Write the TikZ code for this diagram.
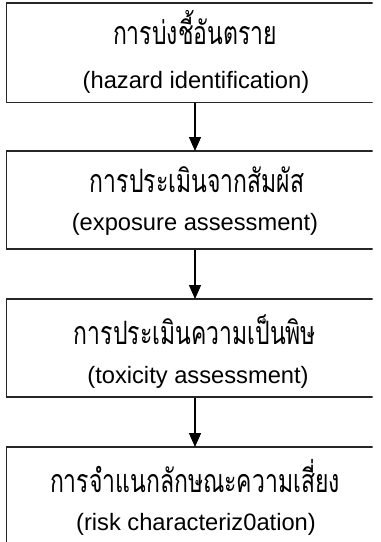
\documentclass[tikz,border=0pt]{standalone}
\usepackage{fontspec}
\setmainfont{Liberation Sans}
\newfontfamily\thaifont[Script=Thai]{Loma}
\usetikzlibrary{arrows.meta}
% Thai titles are set tall and narrow
\newcommand{\thaititle}[1]{\scalebox{1}[1.4]{#1}}
\begin{document}
\begin{tikzpicture}[x=1pt,y=-1pt,
  stagebox/.style={draw=black!85, line width=1.4pt, minimum width=374pt, inner sep=0pt, outer sep=0pt},
  thline/.style={font=\thaifont\fontsize{23}{26}\selectfont, inner sep=0pt, anchor=base},
  enline/.style={font=\fontsize{23.7}{27}\selectfont, inner sep=0pt, anchor=base},
  flow/.style={line width=1.4pt, -{Triangle[width=12pt,length=14pt]}}]
\useasboundingbox (0,0) rectangle (381,542);
\begin{scope}
  \clip (0,0) rectangle (372.5,542);
  \node[stagebox, minimum height=99.5pt, anchor=north west] (b1) at (6.5,3) {};
  \node[stagebox, minimum height=98pt, anchor=north west] (b2) at (6.5,151) {};
  \node[stagebox, minimum height=98pt, anchor=north west] (b3) at (6.5,299) {};
  \node[stagebox, minimum height=110pt, anchor=north west] (b4) at (6.5,447) {};
\end{scope}
% stage titles, Thai name above the English one
\node[thline] (t1) at (195,44.5) {\thaititle{การบ่งชี้อันตราย}};
\node[enline] (e1) at (196,88.5) {(hazard identification)};
\node[thline] (t2) at (197,192.5) {\thaititle{การประเมินจากสัมผัส}};
\node[enline] (e2) at (195,230) {(exposure assessment)};
\node[thline] (t3) at (195,344) {\thaititle{การประเมินความเป็นพิษ}};
\node[enline] (e3) at (198,383.5) {(toxicity assessment)};
\node[thline] (t4) at (195,492.5) {\thaititle{การจำแนกลักษณะความเสี่ยง}};
\node[enline] (e4) at (196,530.5) {(risk characteriz0ation)};
% connectors
\coordinate (a1) at (195,102.5);
\coordinate (a2) at (195,250);
\coordinate (a3) at (195,398);
\draw[flow] (a1) -- (a1 |- b2.north);
\draw[flow] (a2) -- (a2 |- b3.north);
\draw[flow] (a3) -- (a3 |- b4.north);
\end{tikzpicture}
\end{document}
